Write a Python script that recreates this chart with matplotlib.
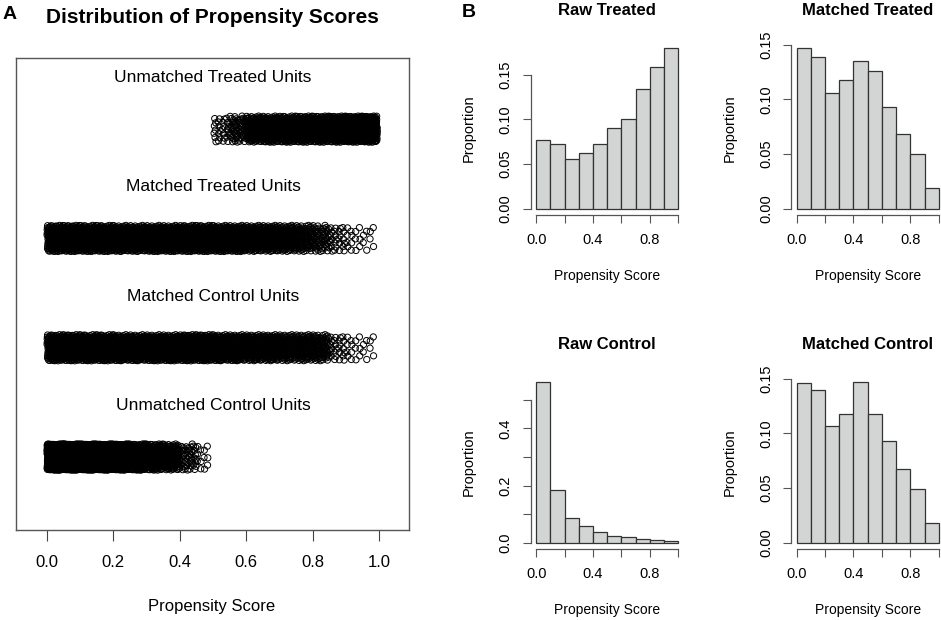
import numpy as np
import matplotlib
matplotlib.use('Agg')
import matplotlib.pyplot as plt

plt.rcParams['font.family'] = ['Liberation Sans', 'DejaVu Sans']

# ---- panel B: histogram proportions, bins of width 0.1 on [0, 1]
score_bins = [0.0, 0.1, 0.2, 0.3, 0.4, 0.5, 0.6, 0.7, 0.8, 0.9, 1.0]
raw_treated = [0.077, 0.073, 0.056, 0.063, 0.072, 0.091, 0.100, 0.134, 0.159, 0.180]
matched_treated = [0.147, 0.139, 0.106, 0.118, 0.135, 0.126, 0.093, 0.068, 0.050, 0.019]
raw_control = [0.563, 0.185, 0.087, 0.059, 0.039, 0.022, 0.020, 0.013, 0.011, 0.006]
matched_control = [0.146, 0.140, 0.107, 0.118, 0.147, 0.118, 0.093, 0.067, 0.049, 0.018]

# ---- panel A: jittered strips, point counts per score interval
ut_edges = [0.50, 0.55, 0.60, 0.65, 0.70, 0.75, 0.80, 0.85, 0.90, 0.95, 0.995]
ut_counts = [28, 55, 110, 130, 140, 150, 160, 170, 180, 180]

mt_edges = [0.00, 0.05, 0.10, 0.15, 0.20, 0.25, 0.30, 0.35, 0.40, 0.45, 0.50,
            0.55, 0.60, 0.65, 0.70, 0.75, 0.80, 0.85, 0.90, 0.95, 0.99]
mt_counts = [150, 150, 140, 140, 120, 120, 130, 130, 140, 140,
             130, 130, 110, 110, 95, 75, 55, 26, 14, 8]

mc_edges = mt_edges
mc_counts = [150, 150, 140, 140, 120, 120, 130, 130, 150, 150,
             120, 120, 110, 110, 90, 90, 75, 25, 14, 8]

uc_edges = [0.00, 0.05, 0.10, 0.15, 0.20, 0.25, 0.30, 0.35, 0.40, 0.45, 0.49]
uc_counts = [400, 380, 340, 300, 260, 220, 160, 110, 45, 12]

strip_names = ['Unmatched Control Units', 'Matched Control Units',
               'Matched Treated Units', 'Unmatched Treated Units']
strip_data = [(uc_edges, uc_counts), (mc_edges, mc_counts),
              (mt_edges, mt_counts), (ut_edges, ut_counts)]

W, H = 941.0, 620.0


def box(l, t, r, b):
    return [l / W, 1 - b / H, (r - l) / W, (b - t) / H]


def strip_points(edges, counts, yc, jit=0.12):
    # spread each interval's points evenly, with a fixed low-discrepancy vertical offset
    xs, ys = [], []
    for lo, hi, n in zip(edges[:-1], edges[1:], counts):
        k = np.arange(n)
        xs.append(lo + (hi - lo) * ((k * 0.7548776662 + 0.31) % 1))
        ys.append(yc + jit * (2 * ((k * 0.5698402910 + 0.77) % 1) - 1))
    return np.concatenate(xs), np.concatenate(ys)


fig = plt.figure(figsize=(9.41, 6.20), dpi=100)

# ---------------- panel A
ax = fig.add_axes(box(16, 58, 409, 530))
for i, (name, (edges, counts)) in enumerate(zip(strip_names, strip_data)):
    yc = i + 1
    x, y = strip_points(edges, counts, yc)
    ax.scatter(x, y, s=20, facecolors='none', edgecolors='black', linewidths=0.7)
    ax.text(0.5, yc + 0.43, name, ha='center', va='baseline', fontsize=12.5)
ax.set_xlim(-0.0934, 1.0904)
ax.set_ylim(0.332, 4.65)
ax.set_yticks([])
ax.set_xticks(np.arange(0, 1.01, 0.2))
ax.set_xticklabels(['0.0', '0.2', '0.4', '0.6', '0.8', '1.0'])
ax.tick_params(axis='x', length=8, width=0.8, color='#444444', labelsize=12, pad=10)
for s in ax.spines.values():
    s.set_color('#555555')
    s.set_linewidth(1.0)
fig.text(212 / W, 1 - 610.7 / H, 'Propensity Score', ha='center', va='baseline', fontsize=12)
fig.text(3 / W, 1 - 19.3 / H, 'A', ha='left', va='baseline', fontsize=14, fontweight='bold')
fig.text(212 / W, 1 - 23.3 / H, 'Distribution of Propensity Scores', ha='center',
         va='baseline', fontsize=15, fontweight='bold')

# ---------------- panel B
fig.text(461.7 / W, 1 - 17.3 / H, 'B', ha='left', va='baseline', fontsize=14, fontweight='bold')

ticks_small = [0.0, 0.05, 0.10, 0.15]
labels_small = ['0.00', '0.05', '0.10', '0.15']
ticks_big = [0.0, 0.1, 0.2, 0.3, 0.4, 0.5]
labels_big = ['0.0', '', '0.2', '', '0.4', '']

panels = [
    (box(530.5, 41.6, 683.9, 215.2), raw_treated, 'Raw Treated', ticks_small, labels_small),
    (box(791.0, 41.6, 944.4, 215.2), matched_treated, 'Matched Treated', ticks_small, labels_small),
    (box(530.5, 375.5, 683.9, 549.1), raw_control, 'Raw Control', ticks_big, labels_big),
    (box(791.0, 375.5, 944.4, 549.1), matched_control, 'Matched Control', ticks_small, labels_small),
]

for rect, heights, title, yt, yl in panels:
    hx = fig.add_axes(rect)
    hx.bar(score_bins[:-1], heights, width=np.diff(score_bins), align='edge',
           color='#D3D4D4', edgecolor='#333333', linewidth=0.9)
    ymax = max(heights)
    hx.set_xlim(-0.04, 1.04)
    hx.set_ylim(-0.04 * ymax, 1.04 * ymax)
    hx.spines['top'].set_visible(False)
    hx.spines['right'].set_visible(False)
    for s in ['left', 'bottom']:
        hx.spines[s].set_color('#555555')
        hx.spines[s].set_linewidth(0.9)
    hx.spines['left'].set_bounds(yt[0], yt[-1])
    hx.spines['bottom'].set_bounds(0, 1)
    hx.set_xticks(np.arange(0, 1.01, 0.2))
    hx.set_xticklabels(['0.0', '', '0.4', '', '0.8', ''])
    hx.set_yticks(yt)
    hx.set_yticklabels(yl, rotation=90, va='center')
    hx.tick_params(length=6, width=0.8, color='#555555', labelsize=10.5, pad=7)
    hx.text(0.5, 1.155, title, transform=hx.transAxes, ha='center', va='baseline',
            fontsize=12, fontweight='bold')
    hx.text(0.5, -0.375, 'Propensity Score', transform=hx.transAxes, ha='center',
            va='baseline', fontsize=10)
    hx.text(-0.40, 0.5, 'Proportion', transform=hx.transAxes, ha='center',
            va='center', rotation=90, fontsize=10.5)

fig.savefig('out.png', dpi=100)
